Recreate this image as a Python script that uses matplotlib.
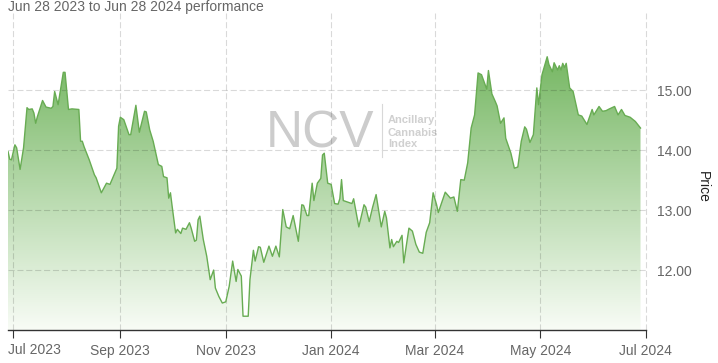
import matplotlib
matplotlib.use('Agg')
import matplotlib.pyplot as plt
import matplotlib.dates as mdates
import numpy as np
from matplotlib.colors import LinearSegmentedColormap
from matplotlib.lines import Line2D

plt.rcParams['font.family'] = ['Liberation Sans', 'DejaVu Sans']

title = 'Jun 28 2023 to Jun 28 2024 performance'

dates = [
    '2023-06-28', '2023-06-29', '2023-06-30', '2023-07-02', '2023-07-03', '2023-07-05',
    '2023-07-07', '2023-07-09', '2023-07-10', '2023-07-12', '2023-07-13', '2023-07-14',
    '2023-07-15', '2023-07-18', '2023-07-20', '2023-07-23', '2023-07-24', '2023-07-25',
    '2023-07-27', '2023-07-30', '2023-07-31', '2023-08-02', '2023-08-04', '2023-08-08',
    '2023-08-09', '2023-08-10', '2023-08-11', '2023-08-14', '2023-08-17', '2023-08-18',
    '2023-08-21', '2023-08-24', '2023-08-26', '2023-08-30', '2023-08-31', '2023-09-01',
    '2023-09-03', '2023-09-06', '2023-09-07', '2023-09-10', '2023-09-12', '2023-09-15',
    '2023-09-16', '2023-09-18', '2023-09-20', '2023-09-23', '2023-09-25', '2023-09-26',
    '2023-09-28', '2023-09-29', '2023-09-30', '2023-10-01', '2023-10-03', '2023-10-04',
    '2023-10-06', '2023-10-07', '2023-10-09', '2023-10-11', '2023-10-12', '2023-10-14',
    '2023-10-15', '2023-10-16', '2023-10-17', '2023-10-19', '2023-10-21', '2023-10-23',
    '2023-10-25', '2023-10-26', '2023-10-28', '2023-10-30', '2023-11-01', '2023-11-03',
    '2023-11-05', '2023-11-07', '2023-11-08', '2023-11-10', '2023-11-11', '2023-11-14',
    '2023-11-15', '2023-11-17', '2023-11-18', '2023-11-20', '2023-11-21', '2023-11-23',
    '2023-11-26', '2023-11-28', '2023-11-30', '2023-12-02', '2023-12-04', '2023-12-06',
    '2023-12-08', '2023-12-10', '2023-12-13', '2023-12-15', '2023-12-16', '2023-12-18',
    '2023-12-19', '2023-12-21', '2023-12-22', '2023-12-24', '2023-12-26', '2023-12-27',
    '2023-12-28', '2023-12-30', '2024-01-01', '2024-01-03', '2024-01-05', '2024-01-06',
    '2024-01-07', '2024-01-08', '2024-01-11', '2024-01-13', '2024-01-14', '2024-01-17',
    '2024-01-20', '2024-01-21', '2024-01-23', '2024-01-25', '2024-01-27', '2024-01-30',
    '2024-02-01', '2024-02-02', '2024-02-04', '2024-02-05', '2024-02-06', '2024-02-08',
    '2024-02-09', '2024-02-11', '2024-02-12', '2024-02-15', '2024-02-17', '2024-02-19',
    '2024-02-21', '2024-02-23', '2024-02-25', '2024-02-27', '2024-02-29', '2024-03-02',
    '2024-03-03', '2024-03-07', '2024-03-10', '2024-03-12', '2024-03-14', '2024-03-16',
    '2024-03-18', '2024-03-20', '2024-03-22', '2024-03-24', '2024-03-26', '2024-03-28',
    '2024-03-31', '2024-04-01', '2024-04-03', '2024-04-05', '2024-04-06', '2024-04-08',
    '2024-04-10', '2024-04-11', '2024-04-14', '2024-04-16', '2024-04-18', '2024-04-20',
    '2024-04-22', '2024-04-23', '2024-04-25', '2024-04-27', '2024-04-29', '2024-04-30',
    '2024-05-02', '2024-05-05', '2024-05-06', '2024-05-08', '2024-05-09', '2024-05-11',
    '2024-05-12', '2024-05-13', '2024-05-14', '2024-05-15', '2024-05-16', '2024-05-18',
    '2024-05-20', '2024-05-23', '2024-05-25', '2024-05-28', '2024-05-31', '2024-06-01',
    '2024-06-04', '2024-06-06', '2024-06-08', '2024-06-10', '2024-06-13', '2024-06-15',
    '2024-06-17', '2024-06-19', '2024-06-22', '2024-06-25', '2024-06-28',
]

prices = [
    13.98, 13.85, 13.84, 14.09, 14.04, 13.68,
    14.04, 14.71, 14.68, 14.69, 14.62, 14.45,
    14.56, 14.83, 14.72, 14.70, 14.73, 14.98,
    14.76, 15.30, 15.30, 14.68, 14.69, 14.68,
    14.15, 14.15, 14.06, 13.84, 13.59, 13.54,
    13.29, 13.45, 13.43, 13.70, 14.40, 14.55,
    14.51, 14.26, 14.26, 14.75, 14.30, 14.65,
    14.64, 14.34, 14.15, 13.76, 13.73, 13.56,
    13.54, 13.20, 13.29, 13.06, 12.62, 12.68,
    12.61, 12.70, 12.68, 12.79, 12.70, 12.48,
    12.50, 12.84, 12.90, 12.51, 12.23, 11.84,
    12.00, 11.70, 11.56, 11.45, 11.47, 11.73,
    12.15, 11.81, 12.01, 11.90, 11.23, 11.23,
    11.84, 12.33, 12.15, 12.39, 12.38, 12.13,
    12.40, 12.23, 12.40, 12.22, 13.01, 12.72,
    12.69, 12.91, 12.48, 13.09, 13.08, 12.91,
    12.91, 13.45, 13.16, 13.45, 13.53, 13.92,
    13.95, 13.45, 13.43, 13.11, 13.10, 13.19,
    13.51, 13.16, 13.13, 13.11, 13.19, 12.72,
    13.09, 13.05, 12.81, 13.05, 13.26, 12.72,
    12.98, 12.87, 12.37, 12.51, 12.39, 12.48,
    12.46, 12.58, 12.12, 12.70, 12.65, 12.43,
    12.30, 12.28, 12.63, 12.79, 13.29, 13.09,
    12.96, 13.30, 13.20, 13.22, 12.98, 13.51,
    13.50, 13.79, 14.37, 14.59, 15.29, 15.26,
    15.02, 15.33, 14.94, 14.81, 14.74, 14.45,
    14.54, 14.20, 13.95, 13.70, 13.72, 14.15,
    14.39, 14.35, 14.13, 14.26, 15.04, 14.76,
    15.26, 15.56, 15.43, 15.31, 15.46, 15.34,
    15.41, 15.34, 15.45, 15.38, 15.45, 15.04,
    14.98, 14.59, 14.57, 14.43, 14.68, 14.59,
    14.73, 14.65, 14.66, 14.69, 14.73, 14.59,
    14.68, 14.58, 14.55, 14.48, 14.37,
]

tick_dates = ['2023-07-01', '2023-09-01', '2023-11-01', '2024-01-01',
              '2024-03-01', '2024-05-01', '2024-07-01']
tick_labels = ['Jul 2023', 'Sep 2023', 'Nov 2023', 'Jan 2024',
               'Mar 2024', 'May 2024', 'Jul 2024']
y_ticks = [12.0, 13.0, 14.0, 15.0]

W, H = 718, 363
fig = plt.figure(figsize=(W / 100, H / 100), dpi=100)
L, R, T, B = 8, 645.7, 13, 330
ax = fig.add_axes([L / W, 1 - B / H, (R - L) / W, (B - T) / H])

x = mdates.datestr2num(dates)
tx = mdates.datestr2num(tick_dates)
y0, y1 = 11.0, 16.29

# gradient area
poly = ax.fill_between(x, prices, y0, facecolor='none', edgecolor='none')
cmap = LinearSegmentedColormap.from_list('g', ['#f8fcf6', '#76b763'])
grad = np.linspace(0, 1, 256).reshape(-1, 1)
im = ax.imshow(grad, extent=[x[0], x[-1], y0, max(prices)], origin='lower',
               aspect='auto', cmap=cmap, zorder=1, interpolation='bilinear')
im.set_clip_path(poly.get_paths()[0], transform=ax.transData)

ax.plot(x, prices, color='#68ac53', lw=1.0, zorder=3)

# grid
gcol = (0, 0, 0, 0.15)
dash = (0, (5.5, 2.5))
for yv in y_ticks:
    ax.axhline(yv, color=gcol, lw=0.8, ls=dash, zorder=2)
for xv in tx:
    ax.axvline(xv, color=gcol, lw=0.8, ls=dash, zorder=2, clip_on=False)

ax.set_xlim(x[0], tx[-1])
ax.set_ylim(y0, y1)

ax.set_xticks(tx)
ax.set_xticklabels([''] + tick_labels[1:])
ax.tick_params(axis='x', length=5.8, width=0.8, color='#333333', pad=4,
               labelsize=10, labelcolor='#666666')
ax.yaxis.tick_right()
ax.set_yticks(y_ticks)
ax.set_yticklabels(['%.2f' % v for v in y_ticks])
ax.tick_params(axis='y', length=0, pad=8, labelsize=10, labelcolor='#666666')

for s in ['top', 'left', 'right']:
    ax.spines[s].set_visible(False)
ax.spines['bottom'].set_color('#333333')
ax.spines['bottom'].set_linewidth(1.0)
ax.set_facecolor('none')

# first x label kept inside the chart
fig.text(8 / W, 1 - 350.5 / H, tick_labels[0], fontsize=10, color='#666666',
         ha='left', va='center')

# title and axis title
fig.text(8 / W, 1 - 6.5 / H, title, fontsize=10, color='#666666',
         ha='left', va='center')
fig.text(703 / W, 1 - 187 / H, 'Price', rotation=270, fontsize=10,
         color='#222222', ha='center', va='center')

# watermark
ax.text(320 / W, 1 - 147 / H, 'NCV', transform=fig.transFigure, fontsize=37,
        color='#cccccc', ha='center', va='baseline', zorder=0.5)
fig.add_artist(Line2D([382 / W, 382 / W], [1 - 104 / H, 1 - 157 / H],
                      color='#d8d8d8', lw=0.8))
for txt, yb in zip(['Ancillary', 'Cannabis', 'Index'], [123.5, 135.5, 147.5]):
    ax.text(388 / W, 1 - yb / H, txt, transform=fig.transFigure, fontsize=8,
            fontweight='bold', color='#d0d0d0', ha='left', va='baseline',
            zorder=0.5)

fig.savefig('out.png', dpi=100)
